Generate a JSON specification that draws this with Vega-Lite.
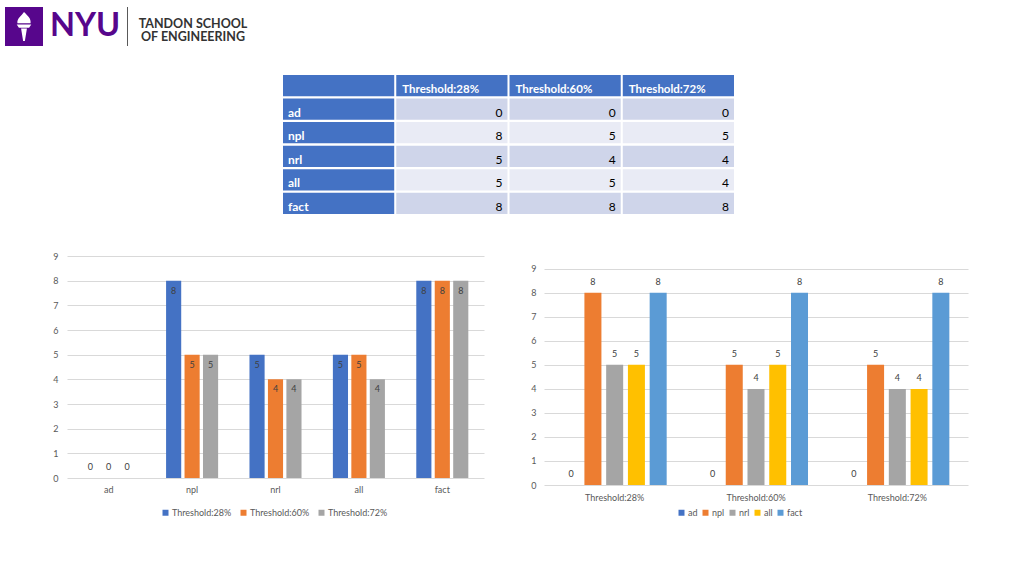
{
  "$schema": "https://vega.github.io/schema/vega-lite/v6.json",
  "background": "white",
  "padding": {"left": 5, "top": 7, "right": 5, "bottom": 5},
  "config": {
    "view": {"stroke": null},
    "font": "Lato",
    "axis": {"labelFont": "Lato"},
    "legend": {"labelFont": "Lato"}
  },
  "datasets": {
    "counts": [
      {"method": "ad", "threshold": "Threshold:28%", "count": 0},
      {"method": "ad", "threshold": "Threshold:60%", "count": 0},
      {"method": "ad", "threshold": "Threshold:72%", "count": 0},
      {"method": "npl", "threshold": "Threshold:28%", "count": 8},
      {"method": "npl", "threshold": "Threshold:60%", "count": 5},
      {"method": "npl", "threshold": "Threshold:72%", "count": 5},
      {"method": "nrl", "threshold": "Threshold:28%", "count": 5},
      {"method": "nrl", "threshold": "Threshold:60%", "count": 4},
      {"method": "nrl", "threshold": "Threshold:72%", "count": 4},
      {"method": "all", "threshold": "Threshold:28%", "count": 5},
      {"method": "all", "threshold": "Threshold:60%", "count": 5},
      {"method": "all", "threshold": "Threshold:72%", "count": 4},
      {"method": "fact", "threshold": "Threshold:28%", "count": 8},
      {"method": "fact", "threshold": "Threshold:60%", "count": 8},
      {"method": "fact", "threshold": "Threshold:72%", "count": 8}
    ],
    "logo": [
      {"brand": "NYU", "school": "TANDON SCHOOL\nOF ENGINEERING"}
    ]
  },
  "spacing": 29,
  "vconcat": [
    {
      "spacing": 0,
      "hconcat": [
        {
          "width": 38,
          "height": 39,
          "data": {"name": "logo"},
          "layer": [
            {"mark": {"type": "rect", "color": "#57068c"}, "encoding": {}},
            {
              "mark": {
                "type": "point",
                "shape": "M0,-1 C0.25,-0.75 0.5,-0.55 0.45,-0.22 L-0.45,-0.22 C-0.5,-0.55 -0.2,-0.7 0,-1 Z M-0.5,-0.14 L0.5,-0.14 L0.35,0.08 L-0.35,0.08 Z M-0.2,0.14 L0.2,0.14 L0.06,1 L-0.06,1 Z",
                "filled": true,
                "color": "white",
                "opacity": 1,
                "strokeWidth": 0,
                "size": 850
              },
              "encoding": {}
            }
          ]
        },
        {
          "width": 84,
          "height": 39,
          "data": {"name": "logo"},
          "mark": {"type": "text", "font": "Lato", "fontWeight": "bold", "fontSize": 32.5, "color": "#57068c", "align": "center", "baseline": "middle", "dy": -1},
          "encoding": {"text": {"field": "brand", "type": "nominal"}}
        },
        {
          "width": 1,
          "height": 39,
          "data": {"name": "logo"},
          "mark": {"type": "rect", "color": "#595959"},
          "encoding": {}
        },
        {
          "width": 130,
          "height": 39,
          "data": {"name": "logo"},
          "mark": {"type": "text", "font": "Lato", "fontWeight": "bold", "fontSize": 12.5, "lineHeight": 13.5, "lineBreak": "\n", "color": "#333333", "align": "center", "baseline": "middle", "dy": -3},
          "encoding": {"text": {"field": "school", "type": "nominal"}}
        }
      ]
    },
    {
      "spacing": 38,
      "vconcat": [
        {
          "spacing": 277,
          "hconcat": [
            {
              "width": 1,
              "height": 1,
              "data": {"name": "logo"},
              "mark": {"type": "point", "opacity": 0, "size": 0},
              "encoding": {}
            },
            {
              "width": 451,
              "height": 139,
              "data": {"name": "counts"},
              "layer": [
                {
                  "mark": {"type": "rect"},
                  "encoding": {
                    "x": {"field": "threshold", "type": "nominal", "scale": {"domain": ["row label", "Threshold:28%", "Threshold:60%", "Threshold:72%"], "paddingInner": 0.018, "paddingOuter": 0}, "axis": null},
                    "y": {"field": "method", "type": "nominal", "scale": {"domain": ["header", "ad", "npl", "nrl", "all", "fact"], "paddingInner": 0.1, "paddingOuter": 0}, "axis": null},
                    "fill": {"field": "method", "type": "nominal", "scale": {"domain": ["ad", "npl", "nrl", "all", "fact"], "range": ["#CFD5EA", "#E9EBF5", "#CFD5EA", "#E9EBF5", "#CFD5EA"]}, "legend": null}
                  }
                },
                {
                  "transform": [{"aggregate": [{"op": "count", "as": "n"}], "groupby": ["threshold"]}],
                  "mark": {"type": "rect", "color": "#4472C4"},
                  "encoding": {
                    "x": {"field": "threshold", "type": "nominal"},
                    "y": {"datum": "header", "type": "nominal"}
                  }
                },
                {
                  "transform": [{"aggregate": [{"op": "count", "as": "n"}], "groupby": ["method"]}],
                  "mark": {"type": "rect", "color": "#4472C4"},
                  "encoding": {
                    "x": {"datum": "row label", "type": "nominal"},
                    "y": {"field": "method", "type": "nominal"}
                  }
                },
                {
                  "transform": [{"aggregate": [{"op": "count", "as": "n"}]}],
                  "mark": {"type": "rect", "color": "#4472C4"},
                  "encoding": {
                    "x": {"datum": "row label", "type": "nominal"},
                    "y": {"datum": "header", "type": "nominal"}
                  }
                },
                {
                  "mark": {"type": "text", "align": "right", "baseline": "alphabetic", "dx": -5, "dy": -3, "fontSize": 12, "color": "#000000"},
                  "encoding": {
                    "x": {"field": "threshold", "type": "nominal", "bandPosition": 1},
                    "y": {"field": "method", "type": "nominal", "bandPosition": 1},
                    "text": {"field": "count", "type": "quantitative"}
                  }
                },
                {
                  "transform": [{"aggregate": [{"op": "count", "as": "n"}], "groupby": ["threshold"]}],
                  "mark": {"type": "text", "align": "left", "baseline": "alphabetic", "dx": 6, "dy": -3, "fontSize": 11.5, "fontWeight": "bold", "color": "white"},
                  "encoding": {
                    "x": {"field": "threshold", "type": "nominal", "bandPosition": 0},
                    "y": {"datum": "header", "type": "nominal", "bandPosition": 1},
                    "text": {"field": "threshold", "type": "nominal"}
                  }
                },
                {
                  "transform": [{"aggregate": [{"op": "count", "as": "n"}], "groupby": ["method"]}],
                  "mark": {"type": "text", "align": "left", "baseline": "alphabetic", "dx": 5, "dy": -3, "fontSize": 12, "fontWeight": "bold", "color": "white"},
                  "encoding": {
                    "x": {"datum": "row label", "type": "nominal", "bandPosition": 0},
                    "y": {"field": "method", "type": "nominal", "bandPosition": 1},
                    "text": {"field": "method", "type": "nominal"}
                  }
                }
              ]
            }
          ]
        },
        {
          "spacing": 60,
          "bounds": "flush",
          "resolve": {"scale": {"color": "independent", "xOffset": "independent"}, "legend": {"color": "independent"}},
          "hconcat": [
            {
              "width": 2,
              "height": 1,
              "data": {"name": "logo"},
              "mark": {"type": "point", "opacity": 0, "size": 0},
              "encoding": {}
            },
            {
              "width": 417,
              "height": 222,
              "data": {"name": "counts"},
              "encoding": {
                "x": {"field": "method", "type": "nominal", "scale": {"domain": ["ad", "npl", "nrl", "all", "fact"], "paddingInner": 0.376, "paddingOuter": 0.188}, "axis": {"title": null, "labelAngle": 0, "domain": false, "ticks": false, "labelPadding": 7, "labelFontSize": 9, "labelColor": "#595959"}},
                "xOffset": {"field": "threshold", "type": "nominal", "scale": {"domain": ["Threshold:28%", "Threshold:60%", "Threshold:72%"], "paddingInner": 0.18, "paddingOuter": 0}},
                "y": {"field": "count", "type": "quantitative", "scale": {"domain": [0, 9], "nice": false}, "axis": {"title": null, "values": [0, 1, 2, 3, 4, 5, 6, 7, 8, 9], "domain": false, "ticks": false, "gridColor": "#D9D9D9", "labelPadding": 9, "labelFontSize": 9, "labelColor": "#595959"}}
              },
              "layer": [
                {
                  "mark": {"type": "bar"},
                  "encoding": {
                    "color": {"field": "threshold", "type": "nominal", "scale": {"domain": ["Threshold:28%", "Threshold:60%", "Threshold:72%"], "range": ["#4472C4", "#ED7D31", "#A5A5A5"]}, "legend": {"orient": "none", "legendX": 94, "legendY": 252, "direction": "horizontal", "title": null, "symbolType": "square", "symbolSize": 36, "symbolStrokeWidth": 0, "labelFontSize": 9, "labelColor": "#595959", "columnPadding": 7, "labelOffset": 2}}
                  }
                },
                {
                  "transform": [{"filter": "datum.count > 0"}],
                  "mark": {"type": "text", "baseline": "top", "dy": 6, "fontSize": 9, "color": "#404040"},
                  "encoding": {"text": {"field": "count", "type": "quantitative"}}
                },
                {
                  "transform": [{"filter": "datum.count == 0"}],
                  "mark": {"type": "text", "baseline": "bottom", "dy": -6, "fontSize": 9, "color": "#404040"},
                  "encoding": {"text": {"field": "count", "type": "quantitative"}}
                }
              ]
            },
            {
              "width": 424,
              "height": 229,
              "data": {"name": "counts"},
              "encoding": {
                "x": {"field": "threshold", "type": "nominal", "scale": {"domain": ["Threshold:28%", "Threshold:60%", "Threshold:72%"], "paddingInner": 0.264, "paddingOuter": 0.132}, "axis": {"title": null, "labelAngle": 0, "domain": false, "ticks": false, "labelPadding": 8, "labelFontSize": 9, "labelColor": "#595959"}},
                "xOffset": {"field": "method", "type": "nominal", "scale": {"domain": ["ad", "npl", "nrl", "all", "fact"], "paddingInner": 0.218, "paddingOuter": 0}},
                "y": {"field": "count", "type": "quantitative", "scale": {"domain": [0, 9.53], "nice": false}, "axis": {"title": null, "values": [0, 1, 2, 3, 4, 5, 6, 7, 8, 9], "domain": false, "ticks": false, "gridColor": "#D9D9D9", "labelPadding": 8, "labelFontSize": 9, "labelColor": "#595959"}}
              },
              "layer": [
                {
                  "mark": {"type": "bar"},
                  "encoding": {
                    "color": {"field": "method", "type": "nominal", "scale": {"domain": ["ad", "npl", "nrl", "all", "fact"], "range": ["#4472C4", "#ED7D31", "#A5A5A5", "#FFC000", "#5B9BD5"]}, "legend": {"orient": "none", "legendX": 133, "legendY": 252, "direction": "horizontal", "title": null, "symbolType": "square", "symbolSize": 36, "symbolStrokeWidth": 0, "labelFontSize": 9, "labelColor": "#595959", "columnPadding": 3, "labelOffset": 2}}
                  }
                },
                {
                  "mark": {"type": "text", "baseline": "bottom", "dy": -6, "fontSize": 9, "color": "#404040"},
                  "encoding": {"text": {"field": "count", "type": "quantitative"}}
                }
              ]
            }
          ]
        }
      ]
    }
  ]
}
